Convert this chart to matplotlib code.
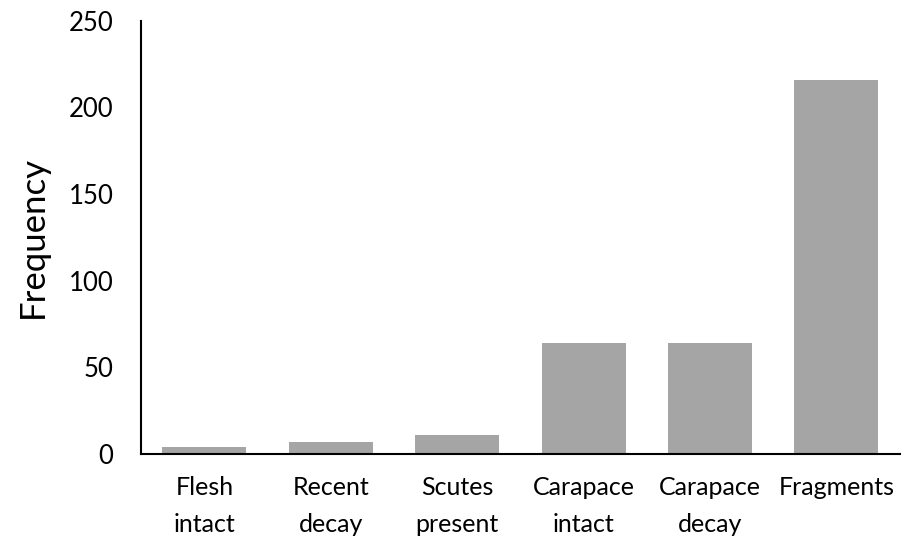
import matplotlib.pyplot as plt

categories = ["Flesh\nintact", "Recent\ndecay", "Scutes\npresent",
              "Carapace\nintact", "Carapace\ndecay", "Fragments"]
frequency = [4, 7, 11, 64, 64, 216]
yticks = [0, 50, 100, 150, 200, 250]

plt.rcParams["font.family"] = ["Lato", "DejaVu Sans"]

fig = plt.figure(figsize=(9.05, 5.45), dpi=100)
ax = fig.add_axes([0.156, 0.167, 0.838, 0.795])

ax.bar(range(len(categories)), frequency, width=0.665, color="#A5A5A5")
ax.set_xlim(-0.5, len(categories) - 0.5)
ax.set_ylim(0, 250)
ax.set_yticks(yticks)
ax.set_xticks(range(len(categories)))
ax.set_xticklabels(categories, fontsize=18, linespacing=1.7)
ax.tick_params(axis="y", labelsize=18.5, length=0, pad=20)
ax.tick_params(axis="x", length=0, pad=16)
ax.set_ylabel("Frequency", fontsize=25, labelpad=14)

for side in ["top", "right"]:
    ax.spines[side].set_visible(False)
for side in ["left", "bottom"]:
    ax.spines[side].set_linewidth(1.5)
    ax.spines[side].set_color("black")

fig.savefig("out.png", dpi=100)
